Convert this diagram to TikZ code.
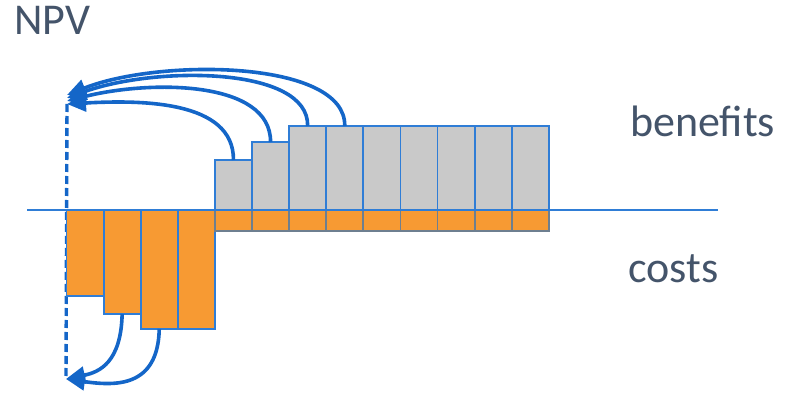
\documentclass[tikz,border=0pt]{standalone}
\usepackage{fontspec}
\setmainfont{Carlito}
\usetikzlibrary{arrows.meta}
\definecolor{npvblue}{HTML}{1466C8}
\definecolor{barblue}{HTML}{2F7DD6}
\definecolor{costor}{HTML}{F79A33}
\definecolor{bengrey}{HTML}{C9C9C9}
\definecolor{txtcol}{HTML}{44546A}
\definecolor{edgegrey}{HTML}{6E7F90}
\begin{document}
\begin{tikzpicture}[x=1pt,y=-1pt,
  bar/.style={draw=barblue, line width=1.8pt, inner sep=0pt, outer sep=0pt, minimum width=37.1pt, anchor=north west},
  benbar/.style={bar, fill=bengrey},
  costbar/.style={bar, fill=costor},
  smallcost/.style={bar, fill=costor, draw=edgegrey, minimum height=21pt},
  flow/.style={draw=npvblue, line width=3.6pt, -{Triangle[length=19pt,width=17pt]}},
  npvline/.style={draw=npvblue, line width=3.4pt, dash pattern=on 8pt off 4pt},
  axisline/.style={draw=barblue, line width=1.4pt},
  txtlbl/.style={text=txtcol, font=\fontsize{44}{52}\selectfont, inner sep=0pt, anchor=base west}]
\useasboundingbox (0,0) rectangle (785,393);
% axis
\coordinate (axl) at (27,210);
\coordinate (axr) at (718,210);
\draw[axisline] (axl) -- (axr);
% npv points
\coordinate (npvt1) at (67,95);
\coordinate (npvt2) at (67,98);
\coordinate (npvt3) at (67,101);
\coordinate (npvt4) at (67,104);
\coordinate (npvbot) at (66,379);
\draw[npvline] (npvt4) -- (npvbot);
% cost bars
\foreach \i/\h in {1/86,2/104,3/119,4/119}
  \node[costbar, minimum height=\h pt] (c\i) at ({66.5+37.1*(\i-1)},210) {};
% small cost bars and benefit bars
\foreach \i in {1,...,9}
  \node[smallcost] (s\i) at ({214.9+37.1*(\i-1)},210) {};
\foreach \i/\h in {1/50,2/68,3/84,4/84,5/84,6/84,7/84,8/84,9/84}
  \node[benbar, minimum height=\h pt] (b\i) at ({214.9+37.1*(\i-1)},{210-\h}) {};
% flows to NPV
\draw[flow] (b4.north) .. controls (346,60) and (160,58) .. (npvt1);
\draw[flow] (b3.north) .. controls (309,66) and (155,66) .. (npvt2);
\draw[flow] (b2.north) .. controls (271,80) and (150,80) .. (npvt3);
\draw[flow] (b1.north) .. controls (234,100) and (140,100) .. (npvt4);
\draw[flow] (c2.south) .. controls (121,362) and (100,372) .. (npvbot);
\draw[flow] (c3.south) .. controls (158,388) and (115,386) .. (npvbot);
% labels
\node[txtlbl] (npv) at (14,35) {NPV};
\node[txtlbl] (ben) at (630,137) {benefits};
\node[txtlbl] (cost) at (628,282) {costs};
\end{tikzpicture}
\end{document}
